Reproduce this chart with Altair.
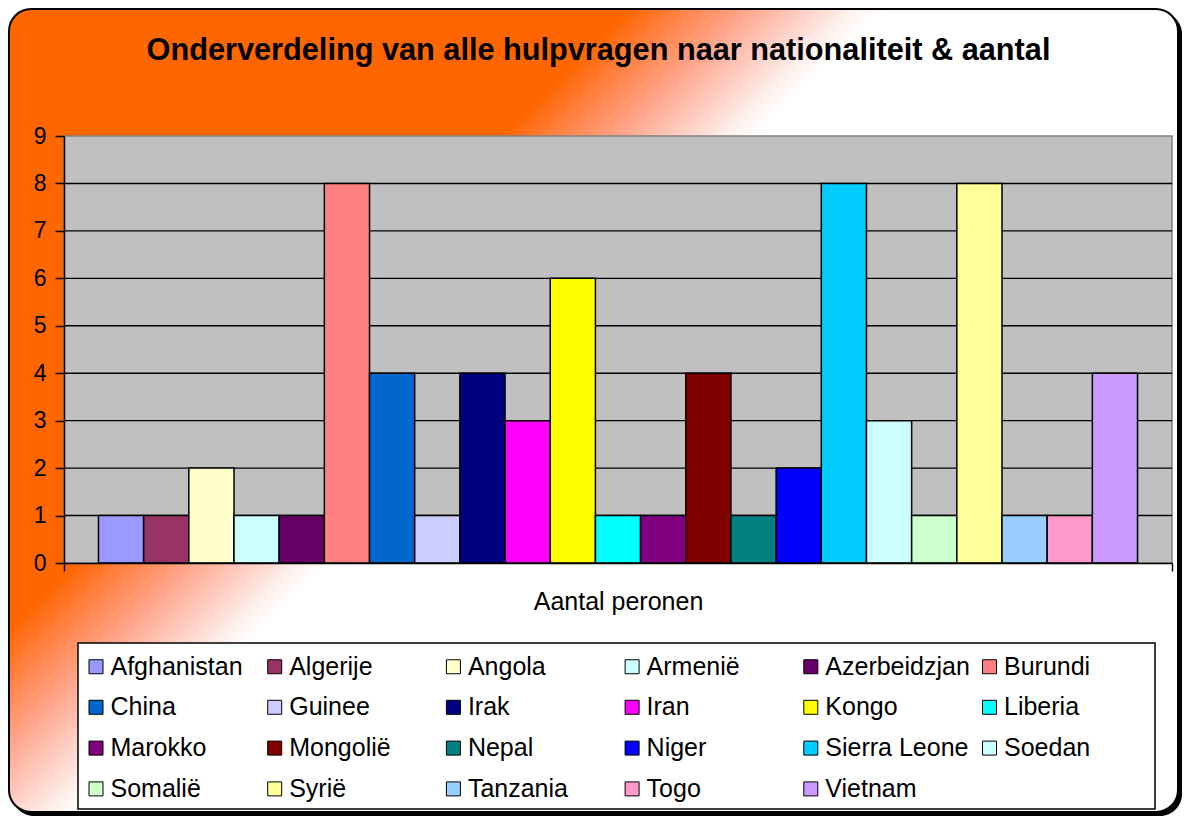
import altair as alt
import pandas as pd

# ---- data ----
countries = ["Afghanistan", "Algerije", "Angola", "Armenië", "Azerbeidzjan", "Burundi",
             "China", "Guinee", "Irak", "Iran", "Kongo", "Liberia",
             "Marokko", "Mongolië", "Nepal", "Niger", "Sierra Leone", "Soedan",
             "Somalië", "Syrië", "Tanzania", "Togo", "Vietnam"]
values = [1, 1, 2, 1, 1, 8, 4, 1, 4, 3, 6, 1, 1, 4, 1, 2, 8, 3, 1, 8, 1, 1, 4]
colors = ["#9999FF", "#993366", "#FFFFCC", "#CCFFFF", "#660066", "#FF8080",
          "#0066CC", "#CCCCFF", "#000080", "#FF00FF", "#FFFF00", "#00FFFF",
          "#800080", "#800000", "#008080", "#0000FF", "#00CCFF", "#CCFFFF",
          "#CCFFCC", "#FFFF99", "#99CCFF", "#FF99CC", "#CC99FF"]
category = "Aantal peronen"
y_ticks = [0, 1, 2, 3, 4, 5, 6, 7, 8, 9]
grid_values = [1, 2, 3, 4, 5, 6, 7, 8]
title_text = "Onderverdeling van alle hulpvragen naar nationaliteit & aantal"

FONT = "Liberation Sans, Arial, sans-serif"

W, H = 1108, 427
PAD = {"left": 56, "top": 128, "right": 10, "bottom": 253}

df = pd.DataFrame({"land": countries, "aantal": values, "cat": [category] * len(countries)})
one = pd.DataFrame({"k": [0]})
grid_df = pd.DataFrame({"aantal": grid_values})

yscale = alt.Scale(domain=[0, 9], nice=False, zero=True)
yaxis = alt.Axis(values=y_ticks, grid=False, tickSize=9, tickColor="#000000", tickWidth=1.5,
                 domainColor="#000000", domainWidth=1.5,
                 labelFont=FONT, labelFontSize=23, labelColor="#000000",
                 labelPadding=9, zindex=1, title=None)

# chart background (gradient, rounded) with shadow
shadow = alt.Chart(one).mark_rect(fill="#000000", cornerRadius=22).encode(
    x=alt.value(-PAD["left"] + 4), x2=alt.value(W + PAD["right"]),
    y=alt.value(-PAD["top"] + 4), y2=alt.value(H + PAD["bottom"]),
)
grad = alt.LinearGradient(
    gradient="linear", x1=0, y1=0, x2=1, y2=0.687,
    stops=[
        alt.GradientStop(offset=0.0, color="#FF6600"),
        alt.GradientStop(offset=0.36, color="#FF6600"),
        alt.GradientStop(offset=0.393, color="#FF8448"),
        alt.GradientStop(offset=0.427, color="#FFA488"),
        alt.GradientStop(offset=0.46, color="#FFCBC0"),
        alt.GradientStop(offset=0.49, color="#FFF0EC"),
        alt.GradientStop(offset=0.508, color="#FFFFFF"),
        alt.GradientStop(offset=1.0, color="#FFFFFF"),
    ],
)
bg = alt.Chart(one).mark_rect(fill=grad, stroke="#000000", strokeWidth=2, cornerRadius=22).encode(
    x=alt.value(-PAD["left"] + 1), x2=alt.value(W + PAD["right"] - 4),
    y=alt.value(-PAD["top"] + 1), y2=alt.value(H + PAD["bottom"] - 4),
)

plot_bg = alt.Chart(one).mark_rect(fill="#C0C0C0", stroke="#808080", strokeWidth=1.5).encode(
    x=alt.value(0), x2=alt.value(W), y=alt.value(0), y2=alt.value(H),
)

grid = alt.Chart(grid_df).mark_rule(color="#000000", strokeWidth=1.4).encode(
    y=alt.Y("aantal:Q", scale=yscale, axis=yaxis),
)

# legend frame (white box with black border)
legend_box = alt.Chart(one).mark_rect(fill="#FFFFFF", stroke="#000000", strokeWidth=1.5).encode(
    x=alt.value(14), x2=alt.value(1091), y=alt.value(507), y2=alt.value(673),
)

bars = alt.Chart(df).mark_bar(stroke="#000000", strokeWidth=1.5).encode(
    x=alt.X("cat:N", title=None,
            scale=alt.Scale(paddingInner=0, paddingOuter=0),
            axis=alt.Axis(tickBand="extent", tickSize=8, tickColor="#000000", tickWidth=1.5,
                          domainColor="#000000", domainWidth=1.5,
                          labelFont=FONT, labelFontSize=25, labelColor="#000000",
                          labelPadding=18, labelAngle=0, zindex=1)),
    xOffset=alt.XOffset("land:N", sort=countries,
                        scale=alt.Scale(paddingInner=0, paddingOuter=0.763)),
    y=alt.Y("aantal:Q", scale=yscale, axis=yaxis),
    color=alt.Color("land:N", sort=countries,
                    scale=alt.Scale(domain=countries, range=colors),
                    legend=alt.Legend(title=None, orient="none", legendX=9.5, legendY=508,
                                      columns=6, direction="horizontal", gridAlign="all",
                                      symbolType="square", symbolSize=196,
                                      symbolStrokeColor="#000000", symbolStrokeWidth=1,
                                      labelFont=FONT, labelFontSize=25, labelColor="#000000",
                                      labelOffset=2, labelLimit=400,
                                      columnPadding=6.7, rowPadding=14.8,
                                      padding=10, zindex=1)),
)

title = alt.Chart(one).mark_text(
    font=FONT, fontSize=30.7, fontWeight="bold", color="#000000",
    align="center", baseline="alphabetic",
).encode(
    x=alt.value(534.5), y=alt.value(-76), text=alt.value(title_text),
)

chart = alt.layer(shadow, bg, plot_bg, grid, legend_box, bars, title).properties(
    width=W, height=H, padding=PAD, autosize=alt.AutoSizeParams(type="none"),
).configure_view(stroke=None).configure(background="#FFFFFF")

chart.save("out.html", embed_options={"renderer": "svg", "actions": False})
